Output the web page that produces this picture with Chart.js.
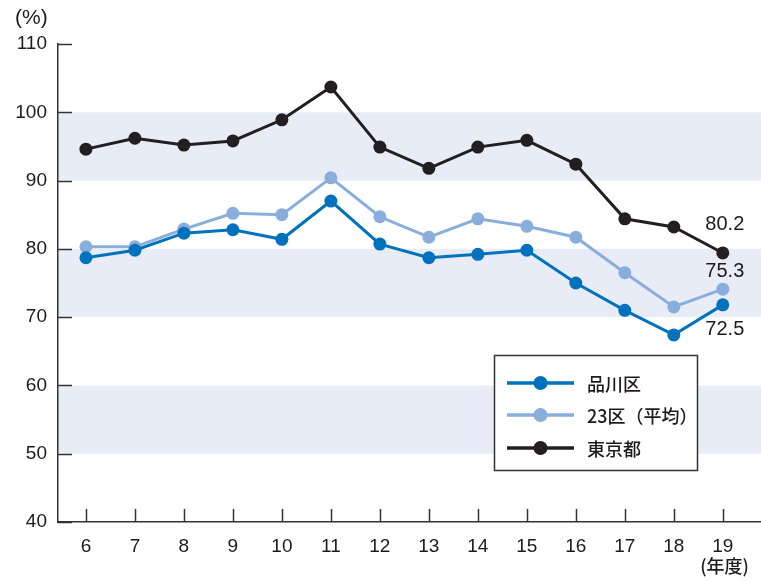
<!DOCTYPE html>
<html><head><meta charset="utf-8">
<script src="https://cdn.jsdelivr.net/npm/chart.js@4"></script>
<style>html,body{margin:0;padding:0;background:#fff}#wrap{width:761px;height:581px;position:relative}</style>
</head><body><div id="wrap"><canvas id="c" width="761" height="581"></canvas></div>
<script>
const years = [6,7,8,9,10,11,12,13,14,15,16,17,18,19];
const shinagawa = [78.7,79.8,82.3,82.8,81.4,87.0,80.7,78.7,79.2,79.8,75.0,71.0,67.4,71.8];
const ku23 = [80.3,80.3,82.9,85.2,85.0,90.4,84.7,81.7,84.4,83.3,81.7,76.5,71.5,74.1];
const tokyo = [94.6,96.2,95.2,95.8,98.9,103.7,94.9,91.8,94.9,95.9,92.4,84.4,83.2,79.4];
const seriesNames = ['品川区','23区（平均）','東京都'];
const endLabels = ['72.5','75.3','80.2'];
const yTicks = [40,50,60,70,80,90,100,110];
const bands = [[50,60],[70,80],[90,100]];
const yUnit = '(%)';
const xUnit = '(年度)';

const colors = ['#0071bc','#8aaedc','#231f20'];
const NUMFONT = '"Liberation Sans", Arial, sans-serif';
const JPFONT = '"Noto Sans CJK JP", sans-serif';

function pts(arr){ return years.map((y,i)=>({x:y,y:arr[i]})); }

const deco = {
  id:'deco',
  beforeDraw(chart){
    const {ctx, chartArea:a, scales:{y}} = chart;
    ctx.save();
    ctx.fillStyle = '#e8ecf7';
    bands.forEach(([lo,hi])=>{
      const y1 = y.getPixelForValue(hi), y2 = y.getPixelForValue(lo);
      ctx.fillRect(a.left, y1, a.right-a.left, y2-y1);
    });
    ctx.restore();
  },
  beforeDatasetsDraw(chart){
    const {ctx, chartArea:a, scales:{x,y}} = chart;
    ctx.save();
    ctx.strokeStyle = '#333'; ctx.lineWidth = 1.5;
    yTicks.forEach(v=>{
      const py = Math.round(y.getPixelForValue(v))+0.5;
      ctx.beginPath(); ctx.moveTo(a.left, py); ctx.lineTo(a.left+14, py); ctx.stroke();
    });
    years.forEach(v=>{
      const px = Math.round(x.getPixelForValue(v))+0.5;
      ctx.beginPath(); ctx.moveTo(px, a.bottom); ctx.lineTo(px, a.bottom-13); ctx.stroke();
    });
    ctx.fillStyle = '#1e1a1b';
    ctx.font = '21px ' + NUMFONT;
    ctx.textAlign = 'left'; ctx.textBaseline = 'middle';
    ctx.fillText(yUnit, 15, 18);
    ctx.font = '500 18px ' + JPFONT;
    ctx.textAlign = 'right';
    ctx.fillText(xUnit, 749, 566);
    ctx.restore();
  },
  afterDatasetsDraw(chart){
    const {ctx, scales:{x,y}} = chart;
    ctx.save();
    const offs = [25,-18,-28];
    ctx.font = '20px ' + NUMFONT;
    ctx.fillStyle = '#1e1a1b';
    ctx.textAlign = 'center'; ctx.textBaseline = 'middle';
    chart.data.datasets.forEach((ds,i)=>{
      const last = ds.data[ds.data.length-1];
      ctx.fillText(endLabels[i], x.getPixelForValue(last.x)+2, y.getPixelForValue(last.y)+offs[i]);
    });
    const bx=494.5, by=355.5, bw=203, bh=115;
    ctx.fillStyle='#fff'; ctx.fillRect(bx,by,bw,bh);
    ctx.strokeStyle='#333'; ctx.lineWidth=1.5; ctx.strokeRect(bx,by,bw,bh);
    const rows=[383,415,448];
    chart.data.datasets.forEach((ds,i)=>{
      const ry=rows[i];
      ctx.strokeStyle=ds.borderColor; ctx.lineWidth=3.5;
      ctx.beginPath(); ctx.moveTo(507,ry); ctx.lineTo(574,ry); ctx.stroke();
      ctx.fillStyle=ds.borderColor;
      ctx.beginPath(); ctx.arc(540.5,ry,7,0,Math.PI*2); ctx.fill();
      ctx.fillStyle='#1e1a1b';
      ctx.font='500 18px ' + JPFONT;
      ctx.textAlign='left'; ctx.textBaseline='middle';
      ctx.fillText(ds.label, 587, ry+1);
    });
    ctx.restore();
  }
};

new Chart(document.getElementById('c'), {
  type:'line',
  data:{
    datasets:[
      {label:seriesNames[0], data:pts(shinagawa), borderColor:colors[0], backgroundColor:colors[0]},
      {label:seriesNames[1], data:pts(ku23), borderColor:colors[1], backgroundColor:colors[1]},
      {label:seriesNames[2], data:pts(tokyo), borderColor:colors[2], backgroundColor:colors[2]}
    ].map(d=>Object.assign(d,{borderWidth:3,pointRadius:6.5,pointBorderWidth:0,tension:0,fill:false}))
  },
  options:{
    responsive:false, devicePixelRatio:1, animation:false,
    events:[],
    layout:{autoPadding:false, padding:{top:44,left:0,right:0,bottom:0}},
    plugins:{legend:{display:false}, tooltip:{enabled:false}},
    scales:{
      x:{type:'linear', min:5.43, max:19.78,
        afterBuildTicks(s){ s.ticks = years.map(v=>({value:v})); },
        afterFit(s){ s.height = 59; s.paddingRight = 0; s.paddingLeft = 0; },
        grid:{display:false, drawTicks:false},
        border:{display:true, color:'#333', width:1.5},
        ticks:{padding:13, color:'#1e1a1b', font:{family:NUMFONT, size:19}, maxRotation:0, autoSkip:false}
      },
      y:{min:40, max:110,
        afterBuildTicks(s){ s.ticks = yTicks.map(v=>({value:v})); },
        afterFit(s){ s.width = 58; s.paddingTop = 0; s.paddingBottom = 0; },
        grid:{display:false, drawTicks:false},
        border:{display:true, color:'#333', width:1.5},
        ticks:{padding:11, color:'#1e1a1b', font:{family:NUMFONT, size:19}}
      }
    }
  },
  plugins:[deco]
});
</script></body></html>
